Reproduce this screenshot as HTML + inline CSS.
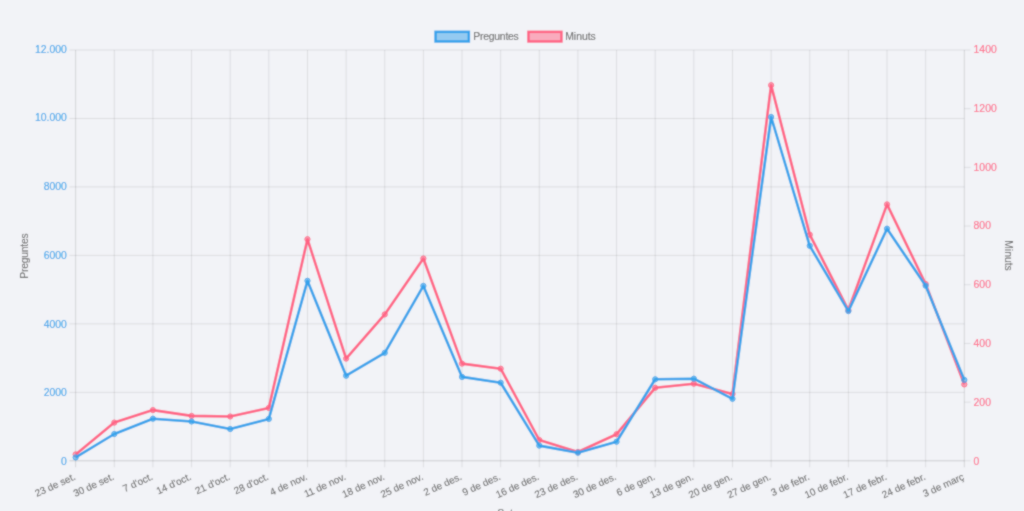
<!DOCTYPE html>
<html><head><meta charset="utf-8"><style>
html,body{margin:0;padding:0;background:#f2f3f7;width:1024px;height:511px;overflow:hidden;}
svg{display:block;font-family:"Liberation Sans",sans-serif;}
</style></head><body>
<svg width="1024" height="511" viewBox="0 0 1024 511">
<defs><filter id="soft" x="0" y="0" width="1024" height="511" filterUnits="userSpaceOnUse"><feConvolveMatrix order="3" kernelMatrix="1 2 1 2 10 2 1 2 1" divisor="22.0" edgeMode="duplicate"/></filter></defs>
<g filter="url(#soft)">
<rect width="1024" height="511" fill="#f2f3f7"/>
<line x1="69.45" y1="460.80" x2="964.30" y2="460.80" stroke="rgba(0,0,0,0.16)" stroke-width="1.0"/>
<line x1="69.45" y1="392.33" x2="964.30" y2="392.33" stroke="rgba(0,0,0,0.09)" stroke-width="1.0"/>
<line x1="69.45" y1="323.87" x2="964.30" y2="323.87" stroke="rgba(0,0,0,0.09)" stroke-width="1.0"/>
<line x1="69.45" y1="255.40" x2="964.30" y2="255.40" stroke="rgba(0,0,0,0.09)" stroke-width="1.0"/>
<line x1="69.45" y1="186.93" x2="964.30" y2="186.93" stroke="rgba(0,0,0,0.09)" stroke-width="1.0"/>
<line x1="69.45" y1="118.47" x2="964.30" y2="118.47" stroke="rgba(0,0,0,0.09)" stroke-width="1.0"/>
<line x1="69.45" y1="50.00" x2="964.30" y2="50.00" stroke="rgba(0,0,0,0.09)" stroke-width="1.0"/>
<line x1="75.65" y1="50.00" x2="75.65" y2="467.30" stroke="rgba(0,0,0,0.13)" stroke-width="1.0"/>
<line x1="114.29" y1="50.00" x2="114.29" y2="467.30" stroke="rgba(0,0,0,0.09)" stroke-width="1.0"/>
<line x1="152.92" y1="50.00" x2="152.92" y2="467.30" stroke="rgba(0,0,0,0.09)" stroke-width="1.0"/>
<line x1="191.56" y1="50.00" x2="191.56" y2="467.30" stroke="rgba(0,0,0,0.09)" stroke-width="1.0"/>
<line x1="230.20" y1="50.00" x2="230.20" y2="467.30" stroke="rgba(0,0,0,0.09)" stroke-width="1.0"/>
<line x1="268.83" y1="50.00" x2="268.83" y2="467.30" stroke="rgba(0,0,0,0.09)" stroke-width="1.0"/>
<line x1="307.47" y1="50.00" x2="307.47" y2="467.30" stroke="rgba(0,0,0,0.09)" stroke-width="1.0"/>
<line x1="346.11" y1="50.00" x2="346.11" y2="467.30" stroke="rgba(0,0,0,0.09)" stroke-width="1.0"/>
<line x1="384.75" y1="50.00" x2="384.75" y2="467.30" stroke="rgba(0,0,0,0.09)" stroke-width="1.0"/>
<line x1="423.38" y1="50.00" x2="423.38" y2="467.30" stroke="rgba(0,0,0,0.09)" stroke-width="1.0"/>
<line x1="462.02" y1="50.00" x2="462.02" y2="467.30" stroke="rgba(0,0,0,0.09)" stroke-width="1.0"/>
<line x1="500.66" y1="50.00" x2="500.66" y2="467.30" stroke="rgba(0,0,0,0.09)" stroke-width="1.0"/>
<line x1="539.29" y1="50.00" x2="539.29" y2="467.30" stroke="rgba(0,0,0,0.09)" stroke-width="1.0"/>
<line x1="577.93" y1="50.00" x2="577.93" y2="467.30" stroke="rgba(0,0,0,0.09)" stroke-width="1.0"/>
<line x1="616.57" y1="50.00" x2="616.57" y2="467.30" stroke="rgba(0,0,0,0.09)" stroke-width="1.0"/>
<line x1="655.20" y1="50.00" x2="655.20" y2="467.30" stroke="rgba(0,0,0,0.09)" stroke-width="1.0"/>
<line x1="693.84" y1="50.00" x2="693.84" y2="467.30" stroke="rgba(0,0,0,0.09)" stroke-width="1.0"/>
<line x1="732.48" y1="50.00" x2="732.48" y2="467.30" stroke="rgba(0,0,0,0.09)" stroke-width="1.0"/>
<line x1="771.12" y1="50.00" x2="771.12" y2="467.30" stroke="rgba(0,0,0,0.09)" stroke-width="1.0"/>
<line x1="809.75" y1="50.00" x2="809.75" y2="467.30" stroke="rgba(0,0,0,0.09)" stroke-width="1.0"/>
<line x1="848.39" y1="50.00" x2="848.39" y2="467.30" stroke="rgba(0,0,0,0.09)" stroke-width="1.0"/>
<line x1="887.03" y1="50.00" x2="887.03" y2="467.30" stroke="rgba(0,0,0,0.09)" stroke-width="1.0"/>
<line x1="925.66" y1="50.00" x2="925.66" y2="467.30" stroke="rgba(0,0,0,0.09)" stroke-width="1.0"/>
<line x1="964.30" y1="50.00" x2="964.30" y2="467.30" stroke="rgba(0,0,0,0.13)" stroke-width="1.0"/>
<line x1="964.30" y1="460.80" x2="970.50" y2="460.80" stroke="rgba(0,0,0,0.09)" stroke-width="1.0"/>
<line x1="964.30" y1="402.11" x2="970.50" y2="402.11" stroke="rgba(0,0,0,0.09)" stroke-width="1.0"/>
<line x1="964.30" y1="343.43" x2="970.50" y2="343.43" stroke="rgba(0,0,0,0.09)" stroke-width="1.0"/>
<line x1="964.30" y1="284.74" x2="970.50" y2="284.74" stroke="rgba(0,0,0,0.09)" stroke-width="1.0"/>
<line x1="964.30" y1="226.06" x2="970.50" y2="226.06" stroke="rgba(0,0,0,0.09)" stroke-width="1.0"/>
<line x1="964.30" y1="167.37" x2="970.50" y2="167.37" stroke="rgba(0,0,0,0.09)" stroke-width="1.0"/>
<line x1="964.30" y1="108.69" x2="970.50" y2="108.69" stroke="rgba(0,0,0,0.09)" stroke-width="1.0"/>
<line x1="964.30" y1="50.00" x2="970.50" y2="50.00" stroke="rgba(0,0,0,0.09)" stroke-width="1.0"/>
<text x="66.8" y="464.90" font-family="Liberation Sans, sans-serif" font-size="10.4" fill="rgb(54,162,235)" stroke="rgb(54,162,235)" stroke-width="0.1" text-anchor="end">0</text>
<text x="66.8" y="396.20" font-family="Liberation Sans, sans-serif" font-size="10.4" fill="rgb(54,162,235)" stroke="rgb(54,162,235)" stroke-width="0.1" text-anchor="end">2000</text>
<text x="66.8" y="327.51" font-family="Liberation Sans, sans-serif" font-size="10.4" fill="rgb(54,162,235)" stroke="rgb(54,162,235)" stroke-width="0.1" text-anchor="end">4000</text>
<text x="66.8" y="258.81" font-family="Liberation Sans, sans-serif" font-size="10.4" fill="rgb(54,162,235)" stroke="rgb(54,162,235)" stroke-width="0.1" text-anchor="end">6000</text>
<text x="66.8" y="190.11" font-family="Liberation Sans, sans-serif" font-size="10.4" fill="rgb(54,162,235)" stroke="rgb(54,162,235)" stroke-width="0.1" text-anchor="end">8000</text>
<text x="66.8" y="121.42" font-family="Liberation Sans, sans-serif" font-size="10.4" fill="rgb(54,162,235)" stroke="rgb(54,162,235)" stroke-width="0.1" text-anchor="end">10.000</text>
<text x="66.8" y="52.72" font-family="Liberation Sans, sans-serif" font-size="10.4" fill="rgb(54,162,235)" stroke="rgb(54,162,235)" stroke-width="0.1" text-anchor="end">12.000</text>
<text x="973.6" y="465.10" font-family="Liberation Sans, sans-serif" font-size="10.4" fill="rgb(255,99,132)" stroke="rgb(255,99,132)" stroke-width="0.1">0</text>
<text x="973.6" y="406.18" font-family="Liberation Sans, sans-serif" font-size="10.4" fill="rgb(255,99,132)" stroke="rgb(255,99,132)" stroke-width="0.1">200</text>
<text x="973.6" y="347.27" font-family="Liberation Sans, sans-serif" font-size="10.4" fill="rgb(255,99,132)" stroke="rgb(255,99,132)" stroke-width="0.1">400</text>
<text x="973.6" y="288.35" font-family="Liberation Sans, sans-serif" font-size="10.4" fill="rgb(255,99,132)" stroke="rgb(255,99,132)" stroke-width="0.1">600</text>
<text x="973.6" y="229.44" font-family="Liberation Sans, sans-serif" font-size="10.4" fill="rgb(255,99,132)" stroke="rgb(255,99,132)" stroke-width="0.1">800</text>
<text x="973.6" y="170.52" font-family="Liberation Sans, sans-serif" font-size="10.4" fill="rgb(255,99,132)" stroke="rgb(255,99,132)" stroke-width="0.1">1000</text>
<text x="973.6" y="111.61" font-family="Liberation Sans, sans-serif" font-size="10.4" fill="rgb(255,99,132)" stroke="rgb(255,99,132)" stroke-width="0.1">1200</text>
<text x="973.6" y="52.69" font-family="Liberation Sans, sans-serif" font-size="10.4" fill="rgb(255,99,132)" stroke="rgb(255,99,132)" stroke-width="0.1">1400</text>
<text transform="translate(74.65,475.80) rotate(-24.5)" x="0" y="3.6" font-family="Liberation Sans, sans-serif" font-size="9.9" fill="#666" stroke="#666" stroke-width="0.1" text-anchor="end">23 de set.</text>
<text transform="translate(113.29,475.80) rotate(-24.5)" x="0" y="3.6" font-family="Liberation Sans, sans-serif" font-size="9.9" fill="#666" stroke="#666" stroke-width="0.1" text-anchor="end">30 de set.</text>
<text transform="translate(151.92,475.80) rotate(-24.5)" x="0" y="3.6" font-family="Liberation Sans, sans-serif" font-size="9.9" fill="#666" stroke="#666" stroke-width="0.1" text-anchor="end">7 d&#39;oct.</text>
<text transform="translate(190.56,475.80) rotate(-24.5)" x="0" y="3.6" font-family="Liberation Sans, sans-serif" font-size="9.9" fill="#666" stroke="#666" stroke-width="0.1" text-anchor="end">14 d&#39;oct.</text>
<text transform="translate(229.20,475.80) rotate(-24.5)" x="0" y="3.6" font-family="Liberation Sans, sans-serif" font-size="9.9" fill="#666" stroke="#666" stroke-width="0.1" text-anchor="end">21 d&#39;oct.</text>
<text transform="translate(267.83,475.80) rotate(-24.5)" x="0" y="3.6" font-family="Liberation Sans, sans-serif" font-size="9.9" fill="#666" stroke="#666" stroke-width="0.1" text-anchor="end">28 d&#39;oct.</text>
<text transform="translate(306.47,475.80) rotate(-24.5)" x="0" y="3.6" font-family="Liberation Sans, sans-serif" font-size="9.9" fill="#666" stroke="#666" stroke-width="0.1" text-anchor="end">4 de nov.</text>
<text transform="translate(345.11,475.80) rotate(-24.5)" x="0" y="3.6" font-family="Liberation Sans, sans-serif" font-size="9.9" fill="#666" stroke="#666" stroke-width="0.1" text-anchor="end">11 de nov.</text>
<text transform="translate(383.75,475.80) rotate(-24.5)" x="0" y="3.6" font-family="Liberation Sans, sans-serif" font-size="9.9" fill="#666" stroke="#666" stroke-width="0.1" text-anchor="end">18 de nov.</text>
<text transform="translate(422.38,475.80) rotate(-24.5)" x="0" y="3.6" font-family="Liberation Sans, sans-serif" font-size="9.9" fill="#666" stroke="#666" stroke-width="0.1" text-anchor="end">25 de nov.</text>
<text transform="translate(461.02,475.80) rotate(-24.5)" x="0" y="3.6" font-family="Liberation Sans, sans-serif" font-size="9.9" fill="#666" stroke="#666" stroke-width="0.1" text-anchor="end">2 de des.</text>
<text transform="translate(499.66,475.80) rotate(-24.5)" x="0" y="3.6" font-family="Liberation Sans, sans-serif" font-size="9.9" fill="#666" stroke="#666" stroke-width="0.1" text-anchor="end">9 de des.</text>
<text transform="translate(538.29,475.80) rotate(-24.5)" x="0" y="3.6" font-family="Liberation Sans, sans-serif" font-size="9.9" fill="#666" stroke="#666" stroke-width="0.1" text-anchor="end">16 de des.</text>
<text transform="translate(576.93,475.80) rotate(-24.5)" x="0" y="3.6" font-family="Liberation Sans, sans-serif" font-size="9.9" fill="#666" stroke="#666" stroke-width="0.1" text-anchor="end">23 de des.</text>
<text transform="translate(615.57,475.80) rotate(-24.5)" x="0" y="3.6" font-family="Liberation Sans, sans-serif" font-size="9.9" fill="#666" stroke="#666" stroke-width="0.1" text-anchor="end">30 de des.</text>
<text transform="translate(654.20,475.80) rotate(-24.5)" x="0" y="3.6" font-family="Liberation Sans, sans-serif" font-size="9.9" fill="#666" stroke="#666" stroke-width="0.1" text-anchor="end">6 de gen.</text>
<text transform="translate(692.84,475.80) rotate(-24.5)" x="0" y="3.6" font-family="Liberation Sans, sans-serif" font-size="9.9" fill="#666" stroke="#666" stroke-width="0.1" text-anchor="end">13 de gen.</text>
<text transform="translate(731.48,475.80) rotate(-24.5)" x="0" y="3.6" font-family="Liberation Sans, sans-serif" font-size="9.9" fill="#666" stroke="#666" stroke-width="0.1" text-anchor="end">20 de gen.</text>
<text transform="translate(770.12,475.80) rotate(-24.5)" x="0" y="3.6" font-family="Liberation Sans, sans-serif" font-size="9.9" fill="#666" stroke="#666" stroke-width="0.1" text-anchor="end">27 de gen.</text>
<text transform="translate(808.75,475.80) rotate(-24.5)" x="0" y="3.6" font-family="Liberation Sans, sans-serif" font-size="9.9" fill="#666" stroke="#666" stroke-width="0.1" text-anchor="end">3 de febr.</text>
<text transform="translate(847.39,475.80) rotate(-24.5)" x="0" y="3.6" font-family="Liberation Sans, sans-serif" font-size="9.9" fill="#666" stroke="#666" stroke-width="0.1" text-anchor="end">10 de febr.</text>
<text transform="translate(886.03,475.80) rotate(-24.5)" x="0" y="3.6" font-family="Liberation Sans, sans-serif" font-size="9.9" fill="#666" stroke="#666" stroke-width="0.1" text-anchor="end">17 de febr.</text>
<text transform="translate(924.66,475.80) rotate(-24.5)" x="0" y="3.6" font-family="Liberation Sans, sans-serif" font-size="9.9" fill="#666" stroke="#666" stroke-width="0.1" text-anchor="end">24 de febr.</text>
<text transform="translate(963.30,475.80) rotate(-24.5)" x="0" y="3.6" font-family="Liberation Sans, sans-serif" font-size="9.9" fill="#666" stroke="#666" stroke-width="0.1" text-anchor="end">3 de març</text>
<text transform="translate(28.0,256) rotate(-90)" x="0" y="0" textLength="45.6" font-family="Liberation Sans, sans-serif" font-size="10.4" fill="#666" stroke="#666" stroke-width="0.1" text-anchor="middle">Preguntes</text>
<text transform="translate(1004.9,255.5) rotate(90)" x="0" y="0" font-family="Liberation Sans, sans-serif" font-size="10.4" fill="#666" stroke="#666" stroke-width="0.1" text-anchor="middle">Minuts</text>
<text x="518.0" y="516.5" font-family="Liberation Sans, sans-serif" font-size="10.4" fill="#666" stroke="#666" stroke-width="0.1" text-anchor="middle">Setmana</text>
<rect x="435.55" y="31.85" width="33.3" height="9.6" fill="rgba(54,162,235,0.5)" stroke="rgb(54,162,235)" stroke-width="2.5"/>
<text x="473.2" y="39.6" textLength="45.6" font-family="Liberation Sans, sans-serif" font-size="10.4" fill="#666" stroke="#666" stroke-width="0.1">Preguntes</text>
<rect x="528.45" y="31.85" width="33.0" height="9.6" fill="rgba(255,99,132,0.5)" stroke="rgb(255,99,132)" stroke-width="2.5"/>
<text x="565.2" y="39.6" font-family="Liberation Sans, sans-serif" font-size="10.4" fill="#666" stroke="#666" stroke-width="0.1">Minuts</text>
<polyline points="75.65,454.40 114.29,422.60 152.92,410.10 191.56,415.90 230.20,416.50 268.83,407.90 307.47,239.20 346.11,358.60 384.75,314.40 423.38,258.50 462.02,363.60 500.66,368.70 539.29,440.00 577.93,452.00 616.57,434.20 655.20,387.80 693.84,383.70 732.48,394.00 771.12,85.20 809.75,234.70 848.39,310.00 887.03,204.40 925.66,284.00 964.30,384.40" fill="none" stroke="rgb(255,99,132)" stroke-width="2.6" stroke-linejoin="round"/>
<circle cx="75.65" cy="454.40" r="2.6" fill="rgba(255,99,132,0.5)" stroke="rgb(255,99,132)" stroke-width="1"/>
<circle cx="114.29" cy="422.60" r="2.6" fill="rgba(255,99,132,0.5)" stroke="rgb(255,99,132)" stroke-width="1"/>
<circle cx="152.92" cy="410.10" r="2.6" fill="rgba(255,99,132,0.5)" stroke="rgb(255,99,132)" stroke-width="1"/>
<circle cx="191.56" cy="415.90" r="2.6" fill="rgba(255,99,132,0.5)" stroke="rgb(255,99,132)" stroke-width="1"/>
<circle cx="230.20" cy="416.50" r="2.6" fill="rgba(255,99,132,0.5)" stroke="rgb(255,99,132)" stroke-width="1"/>
<circle cx="268.83" cy="407.90" r="2.6" fill="rgba(255,99,132,0.5)" stroke="rgb(255,99,132)" stroke-width="1"/>
<circle cx="307.47" cy="239.20" r="2.6" fill="rgba(255,99,132,0.5)" stroke="rgb(255,99,132)" stroke-width="1"/>
<circle cx="346.11" cy="358.60" r="2.6" fill="rgba(255,99,132,0.5)" stroke="rgb(255,99,132)" stroke-width="1"/>
<circle cx="384.75" cy="314.40" r="2.6" fill="rgba(255,99,132,0.5)" stroke="rgb(255,99,132)" stroke-width="1"/>
<circle cx="423.38" cy="258.50" r="2.6" fill="rgba(255,99,132,0.5)" stroke="rgb(255,99,132)" stroke-width="1"/>
<circle cx="462.02" cy="363.60" r="2.6" fill="rgba(255,99,132,0.5)" stroke="rgb(255,99,132)" stroke-width="1"/>
<circle cx="500.66" cy="368.70" r="2.6" fill="rgba(255,99,132,0.5)" stroke="rgb(255,99,132)" stroke-width="1"/>
<circle cx="539.29" cy="440.00" r="2.6" fill="rgba(255,99,132,0.5)" stroke="rgb(255,99,132)" stroke-width="1"/>
<circle cx="577.93" cy="452.00" r="2.6" fill="rgba(255,99,132,0.5)" stroke="rgb(255,99,132)" stroke-width="1"/>
<circle cx="616.57" cy="434.20" r="2.6" fill="rgba(255,99,132,0.5)" stroke="rgb(255,99,132)" stroke-width="1"/>
<circle cx="655.20" cy="387.80" r="2.6" fill="rgba(255,99,132,0.5)" stroke="rgb(255,99,132)" stroke-width="1"/>
<circle cx="693.84" cy="383.70" r="2.6" fill="rgba(255,99,132,0.5)" stroke="rgb(255,99,132)" stroke-width="1"/>
<circle cx="732.48" cy="394.00" r="2.6" fill="rgba(255,99,132,0.5)" stroke="rgb(255,99,132)" stroke-width="1"/>
<circle cx="771.12" cy="85.20" r="2.6" fill="rgba(255,99,132,0.5)" stroke="rgb(255,99,132)" stroke-width="1"/>
<circle cx="809.75" cy="234.70" r="2.6" fill="rgba(255,99,132,0.5)" stroke="rgb(255,99,132)" stroke-width="1"/>
<circle cx="848.39" cy="310.00" r="2.6" fill="rgba(255,99,132,0.5)" stroke="rgb(255,99,132)" stroke-width="1"/>
<circle cx="887.03" cy="204.40" r="2.6" fill="rgba(255,99,132,0.5)" stroke="rgb(255,99,132)" stroke-width="1"/>
<circle cx="925.66" cy="284.00" r="2.6" fill="rgba(255,99,132,0.5)" stroke="rgb(255,99,132)" stroke-width="1"/>
<circle cx="964.30" cy="384.40" r="2.6" fill="rgba(255,99,132,0.5)" stroke="rgb(255,99,132)" stroke-width="1"/>
<polyline points="75.65,457.40 114.29,434.00 152.92,418.70 191.56,421.50 230.20,429.00 268.83,418.90 307.47,280.80 346.11,375.70 384.75,352.80 423.38,285.90 462.02,376.90 500.66,382.70 539.29,445.60 577.93,452.70 616.57,441.70 655.20,379.30 693.84,378.70 732.48,398.80 771.12,117.00 809.75,245.80 848.39,311.10 887.03,228.70 925.66,285.70 964.30,379.90" fill="none" stroke="rgb(54,162,235)" stroke-width="2.6" stroke-linejoin="round"/>
<circle cx="75.65" cy="457.40" r="2.6" fill="rgba(54,162,235,0.5)" stroke="rgb(54,162,235)" stroke-width="1"/>
<circle cx="114.29" cy="434.00" r="2.6" fill="rgba(54,162,235,0.5)" stroke="rgb(54,162,235)" stroke-width="1"/>
<circle cx="152.92" cy="418.70" r="2.6" fill="rgba(54,162,235,0.5)" stroke="rgb(54,162,235)" stroke-width="1"/>
<circle cx="191.56" cy="421.50" r="2.6" fill="rgba(54,162,235,0.5)" stroke="rgb(54,162,235)" stroke-width="1"/>
<circle cx="230.20" cy="429.00" r="2.6" fill="rgba(54,162,235,0.5)" stroke="rgb(54,162,235)" stroke-width="1"/>
<circle cx="268.83" cy="418.90" r="2.6" fill="rgba(54,162,235,0.5)" stroke="rgb(54,162,235)" stroke-width="1"/>
<circle cx="307.47" cy="280.80" r="2.6" fill="rgba(54,162,235,0.5)" stroke="rgb(54,162,235)" stroke-width="1"/>
<circle cx="346.11" cy="375.70" r="2.6" fill="rgba(54,162,235,0.5)" stroke="rgb(54,162,235)" stroke-width="1"/>
<circle cx="384.75" cy="352.80" r="2.6" fill="rgba(54,162,235,0.5)" stroke="rgb(54,162,235)" stroke-width="1"/>
<circle cx="423.38" cy="285.90" r="2.6" fill="rgba(54,162,235,0.5)" stroke="rgb(54,162,235)" stroke-width="1"/>
<circle cx="462.02" cy="376.90" r="2.6" fill="rgba(54,162,235,0.5)" stroke="rgb(54,162,235)" stroke-width="1"/>
<circle cx="500.66" cy="382.70" r="2.6" fill="rgba(54,162,235,0.5)" stroke="rgb(54,162,235)" stroke-width="1"/>
<circle cx="539.29" cy="445.60" r="2.6" fill="rgba(54,162,235,0.5)" stroke="rgb(54,162,235)" stroke-width="1"/>
<circle cx="577.93" cy="452.70" r="2.6" fill="rgba(54,162,235,0.5)" stroke="rgb(54,162,235)" stroke-width="1"/>
<circle cx="616.57" cy="441.70" r="2.6" fill="rgba(54,162,235,0.5)" stroke="rgb(54,162,235)" stroke-width="1"/>
<circle cx="655.20" cy="379.30" r="2.6" fill="rgba(54,162,235,0.5)" stroke="rgb(54,162,235)" stroke-width="1"/>
<circle cx="693.84" cy="378.70" r="2.6" fill="rgba(54,162,235,0.5)" stroke="rgb(54,162,235)" stroke-width="1"/>
<circle cx="732.48" cy="398.80" r="2.6" fill="rgba(54,162,235,0.5)" stroke="rgb(54,162,235)" stroke-width="1"/>
<circle cx="771.12" cy="117.00" r="2.6" fill="rgba(54,162,235,0.5)" stroke="rgb(54,162,235)" stroke-width="1"/>
<circle cx="809.75" cy="245.80" r="2.6" fill="rgba(54,162,235,0.5)" stroke="rgb(54,162,235)" stroke-width="1"/>
<circle cx="848.39" cy="311.10" r="2.6" fill="rgba(54,162,235,0.5)" stroke="rgb(54,162,235)" stroke-width="1"/>
<circle cx="887.03" cy="228.70" r="2.6" fill="rgba(54,162,235,0.5)" stroke="rgb(54,162,235)" stroke-width="1"/>
<circle cx="925.66" cy="285.70" r="2.6" fill="rgba(54,162,235,0.5)" stroke="rgb(54,162,235)" stroke-width="1"/>
<circle cx="964.30" cy="379.90" r="2.6" fill="rgba(54,162,235,0.5)" stroke="rgb(54,162,235)" stroke-width="1"/>
</g></svg>
</body></html>
